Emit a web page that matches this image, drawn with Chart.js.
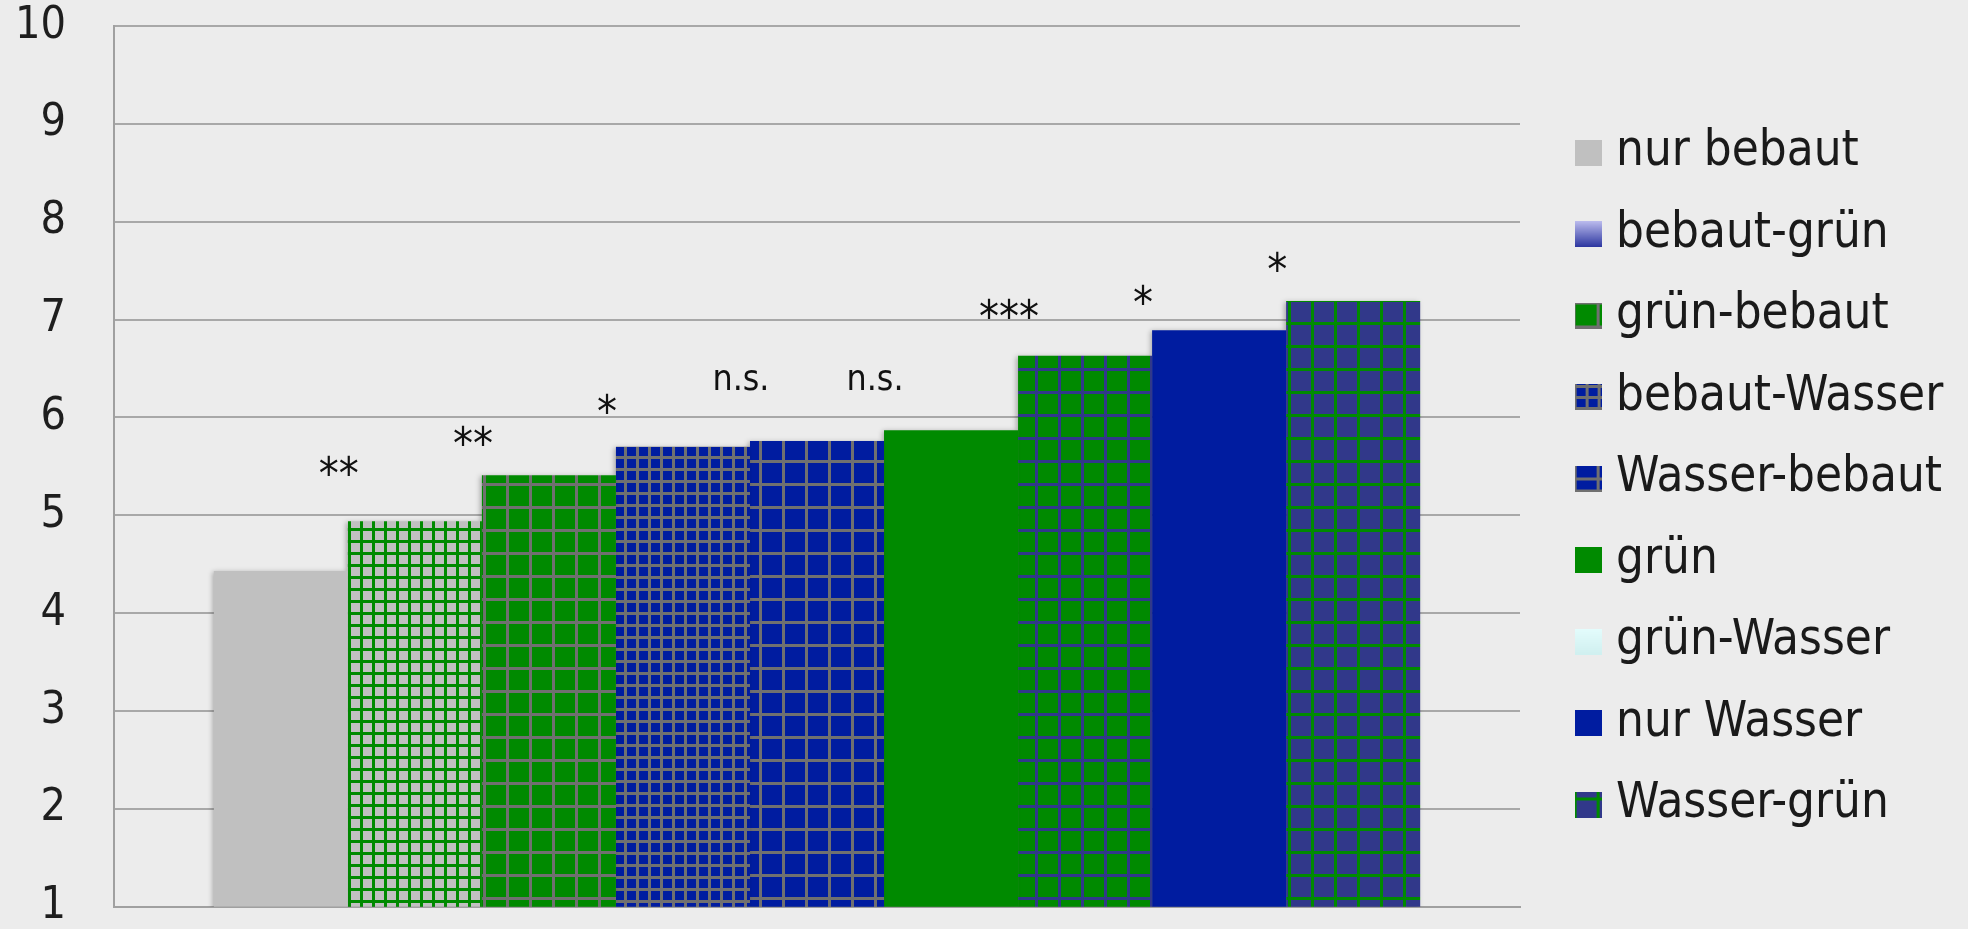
<!DOCTYPE html>
<html>
<head>
<meta charset="utf-8">
<script src="https://cdn.jsdelivr.net/npm/chart.js@4.4.1/dist/chart.umd.min.js"></script>
<style>
html,body{margin:0;padding:0;background:#ececec;overflow:hidden}
canvas{display:block}
</style>
</head>
<body>
<canvas id="c" width="1968" height="929"></canvas>
<script>
// ---------------- data ----------------
const categories = [''];
const seriesNames = ['nur bebaut','bebaut-grün','grün-bebaut','bebaut-Wasser','Wasser-bebaut','grün','grün-Wasser','nur Wasser','Wasser-grün'];
const seriesValues = [4.43, 4.94, 5.41, 5.70, 5.76, 5.87, 6.63, 6.89, 7.19];
const sigLabels = ['', '**', '**', '*', 'n.s.', 'n.s.', '***', '*', '*'];
const sigValues = [null, 5.51, 5.82, 6.14, 6.38, 6.38, 7.11, 7.26, 7.59];
const yTickMin = 1, yTickMax = 10, yTickStep = 1;

// ---------------- styles ----------------
const BG = '#ececec', TEXT = '#1a1a1a';
const GRAY = '#c0c0c0', GREEN = '#008a00', BLUE = '#001ca0', SLATE = '#31388a', LINE_GRAY = '#707070';
const canvas = document.getElementById('c');
const ctx = canvas.getContext('2d');

const mctx = document.createElement('canvas').getContext('2d');
function textW(font, t){ mctx.font = font; return mctx.measureText(t).width; }
const condOK = Math.abs(textW("100px 'DejaVu Sans Condensed', monospace", 'Wasser-bebaut') - textW('100px monospace', 'Wasser-bebaut')) > 1;
const FAMILY = condOK ? "'DejaVu Sans Condensed', 'DejaVu Sans', sans-serif" : "'DejaVu Sans', sans-serif";
function fitSize(text, target){ return Math.round(1000 * target / textW('100px ' + FAMILY, text)) / 10; }
const legendFS = fitSize('Wasser-bebaut', 326);
const tickFS = fitSize('10', 51);
const sigFS = fitSize('n.s.', 57);
const starFS = fitSize('***', 60);

function gridPattern(bg, line, cell, lw){
  const c = document.createElement('canvas'); c.width = c.height = cell;
  const g = c.getContext('2d');
  g.fillStyle = bg; g.fillRect(0,0,cell,cell);
  g.fillStyle = line; g.fillRect(0,0,lw,cell); g.fillRect(0,0,cell,lw);
  return ctx.createPattern(c,'repeat');
}
const barFills = [
  GRAY,
  gridPattern(GRAY, GREEN, 12, 3),
  gridPattern(GREEN, LINE_GRAY, 23, 3),
  gridPattern(BLUE, LINE_GRAY, 12, 3),
  gridPattern(BLUE, LINE_GRAY, 23, 3),
  GREEN,
  gridPattern(GREEN, SLATE, 23, 3),
  BLUE,
  gridPattern(SLATE, GREEN, 23, 3)
];

function icon(draw){
  const c = document.createElement('canvas'); c.width = 27; c.height = 26;
  draw(c.getContext('2d')); return c;
}
function solid(col){ return g => { g.fillStyle = col; g.fillRect(0,0,27,26); }; }
function grad(top, bottom){ return g => { const gr = g.createLinearGradient(0,0,0,26); gr.addColorStop(0,top); gr.addColorStop(1,bottom); g.fillStyle = gr; g.fillRect(0,0,27,26); }; }
function lines(bg, col, vx, hy){ return g => { g.fillStyle = bg; g.fillRect(0,0,27,26); g.fillStyle = col; vx.forEach(v => g.fillRect(v[0],0,v[1],26)); hy.forEach(h => g.fillRect(0,h[0],27,h[1])); }; }
const legendIcons = [
  icon(solid(GRAY)),
  icon(grad('#bcbcee', '#2c36a0')),
  icon(lines(GREEN, LINE_GRAY, [[0,1],[22,3]], [[0,2],[23,3]])),
  icon(lines(BLUE, LINE_GRAY, [[0,2],[11,3],[23,3]], [[1,3],[12,3],[23,3]])),
  icon(lines(BLUE, LINE_GRAY, [[0,2],[22,3]], [[12,3],[24,2]])),
  icon(solid(GREEN)),
  icon(grad('#e4fdfd', '#d0f0f0')),
  icon(solid(BLUE)),
  icon(lines(SLATE, GREEN, [[0,2],[22,3]], [[6,3]]))
];

// ---------------- layout ----------------
const W = 1968, PLOT_LEFT = 114, PLOT_RIGHT = 1520, PLOT_TOP = 26, PLOT_BOTTOM = 907;
const LEG_SPACING = 81.5, LEG_BOX_W = 7, SPACER_W = 32, TICK_GAP = 48, LEG_SHIFT = 24;
const legendPad = LEG_SPACING - legendFS;
mctx.font = 'normal ' + legendFS + 'px ' + FAMILY;
const maxLegText = Math.max(...seriesNames.map(s => mctx.measureText(s).width));
const legendWidth = legendPad + LEG_BOX_W + legendFS / 2 + maxLegText + 10;
const padRight = Math.max(0, W - PLOT_RIGHT - SPACER_W - legendWidth);
const SIG_DX = -9;

const bgPlugin = {
  id: 'bg',
  beforeDraw(chart){ const c = chart.ctx; c.save(); c.fillStyle = BG; c.fillRect(0,0,chart.width,chart.height); c.restore(); }
};
const shadowPlugin = {
  id: 'barShadow',
  beforeDatasetsDraw(chart){ const c = chart.ctx; c.save(); c.shadowColor = 'rgba(0,0,0,0.28)'; c.shadowBlur = 5; c.shadowOffsetX = -2; c.shadowOffsetY = 1; },
  afterDatasetsDraw(chart){ chart.ctx.restore(); }
};
const sigPlugin = {
  id: 'sig',
  afterDraw(chart){
    const c = chart.ctx, ys = chart.scales.y;
    c.save();
    c.fillStyle = '#111111';
    c.textAlign = 'center';
    c.textBaseline = 'alphabetic';
    sigLabels.forEach((t, i) => {
      if (!t) return;
      c.font = (/^\*+$/.test(t) ? starFS : sigFS) + 'px ' + FAMILY;
      const el = chart.getDatasetMeta(i).data[0];
      const x = el.x - el.width / 2 + SIG_DX;
      const yc = ys.getPixelForValue(sigValues[i]);
      const m = c.measureText(t);
      c.fillText(t, x, yc + (m.actualBoundingBoxAscent - m.actualBoundingBoxDescent) / 2);
    });
    c.restore();
  }
};

new Chart(ctx, {
  type: 'bar',
  data: {
    labels: categories,
    datasets: seriesNames.map((name, i) => ({
      label: name,
      data: [seriesValues[i]],
      backgroundColor: barFills[i],
      borderWidth: 0,
      barPercentage: 1,
      categoryPercentage: 0.858,
      yAxisID: 'y'
    }))
  },
  options: {
    responsive: false,
    animation: false,
    devicePixelRatio: 1,
    layout: { padding: { left: 0, top: PLOT_TOP, bottom: 929 - PLOT_BOTTOM, right: padRight } },
    scales: {
      x: {
        type: 'category', offset: true,
        grid: { display: false, drawTicks: false },
        ticks: { display: false },
        border: { display: true, color: '#a0a0a0', width: 2 }
      },
      y: {
        type: 'linear', position: 'left', min: yTickMin, max: yTickMax, beginAtZero: false,
        ticks: { stepSize: yTickStep, padding: 0, color: '#1e1e1e', font: { family: FAMILY, size: tickFS, lineHeight: 1 } },
        grid: { color: '#a8a8a8', lineWidth: 2, drawTicks: true, tickLength: TICK_GAP, tickColor: 'rgba(0,0,0,0)' },
        border: { color: '#a0a0a0', width: 2 },
        afterFit(s){ s.width = PLOT_LEFT; }
      },
      ySpacer: {
        type: 'linear', position: 'right', display: true,
        grid: { display: false, drawTicks: false },
        border: { display: false },
        ticks: { display: false },
        afterFit(s){ s.width = SPACER_W; }
      }
    },
    plugins: {
      tooltip: { enabled: false },
      legend: {
        position: 'right', align: 'center', maxWidth: 800,
        title: { display: true, text: '', color: TEXT, font: { size: 10, lineHeight: 1 }, padding: { top: (LEG_SHIFT - 10) / 2, bottom: (LEG_SHIFT - 10) / 2 } },
        labels: {
          usePointStyle: true,
          boxWidth: LEG_BOX_W,
          padding: legendPad,
          color: TEXT,
          font: { family: FAMILY, size: legendFS },
          generateLabels: chart => chart.data.datasets.map((ds, i) => ({
            text: ds.label, pointStyle: legendIcons[i], fillStyle: 'rgba(0,0,0,0)', fontColor: TEXT,
            strokeStyle: 'rgba(0,0,0,0)', lineWidth: 0, hidden: false, datasetIndex: i
          }))
        }
      }
    }
  },
  plugins: [bgPlugin, shadowPlugin, sigPlugin]
});
</script>
</body>
</html>
